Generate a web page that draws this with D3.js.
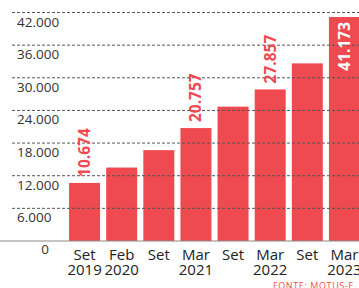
<!DOCTYPE html>
<html lang="it">
<head>
  <meta charset="UTF-8" />
  <title>Colonnine</title>
  <script src="https://d3js.org/d3.v7.min.js"></script>
  <style>
    body {
      margin: 0;
      background: #fff;
      font-family: "Open Sans", sans-serif;
    }
    svg { display: block; }
    .tick-label { font-size: 13.5px; fill: #333; }
    .x-label { font-size: 15px; fill: #222; text-anchor: middle; }
    .value { font-size: 15.5px; font-weight: 700; }
  </style>
</head>
<body>
  <svg id="chart" width="359" height="288"></svg>

  <script>
    const months = ["Set", "Feb", "Set", "Mar", "Set", "Mar", "Set", "Mar"];
    const years = ["2019", "2020", "", "2021", "", "2022", "", "2023"];
    const values = [10674, 13500, 16700, 20757, 24700, 27857, 32650, 41173];
    // which bars show their number
    const shownLabels = [true, false, false, true, false, true, false, true];
    const yTicks = [6000, 12000, 18000, 24000, 30000, 36000, 42000];

    const red = "#ef4a4f";
    const svg = d3.select("#chart");
    const fmt = d => d3.format(",")(d).replace(/,/g, ".");

    const x = d3.scaleBand()
      .domain(d3.range(values.length))
      .range([66, 363])
      .paddingInner(0.165)
      .paddingOuter(0.0825);

    const y = d3.scaleLinear()
      .domain([0, 42000])
      .range([241, 12.5]);

    // bars
    svg.selectAll("rect.bar")
      .data(values)
      .join("rect")
      .attr("class", "bar")
      .attr("x", (d, i) => x(i))
      .attr("width", x.bandwidth())
      .attr("y", d => y(d))
      .attr("height", d => y(0) - y(d))
      .attr("fill", red);

    // baseline
    svg.append("line")
      .attr("x1", 0).attr("x2", 359)
      .attr("y1", y(0)).attr("y2", y(0))
      .attr("stroke", "#8a8a8a")
      .attr("stroke-width", 1.2);

    // dashed grid, drawn over the bars
    svg.selectAll("line.grid")
      .data(yTicks)
      .join("line")
      .attr("class", "grid")
      .attr("x1", 12).attr("x2", 359)
      .attr("y1", d => y(d)).attr("y2", d => y(d))
      .attr("stroke", "#555")
      .attr("stroke-width", 1)
      .attr("stroke-dasharray", "3,2");

    svg.selectAll("text.tick-label")
      .data(yTicks)
      .join("text")
      .attr("class", "tick-label")
      .attr("x", 17)
      .attr("y", d => y(d) + 14)
      .text(d => fmt(d));

    svg.append("text")
      .attr("class", "tick-label")
      .attr("x", 45)
      .attr("y", 254)
      .attr("text-anchor", "middle")
      .text("0");

    // category labels, two lines in one text
    const xl = svg.selectAll("text.x-label")
      .data(months)
      .join("text")
      .attr("class", "x-label")
      .attr("y", 260);

    xl.append("tspan")
      .attr("x", (d, i) => x(i) + x.bandwidth() / 2)
      .text(d => d);

    xl.append("tspan")
      .attr("x", (d, i) => x(i) + x.bandwidth() / 2)
      .attr("dy", 15)
      .text((d, i) => years[i]);

    // rotated value labels
    const last = values.length - 1;
    svg.selectAll("text.value")
      .data(values.map((v, i) => ({ v, i })).filter(d => shownLabels[d.i]))
      .join("text")
      .attr("class", "value")
      .attr("transform", d => {
        const cx = x(d.i) + x.bandwidth() / 2 + 5.5;
        const yy = d.i === last ? y(d.v) + 5 : y(d.v) - 6;
        return `translate(${cx},${yy}) rotate(-90)`;
      })
      .attr("text-anchor", d => d.i === last ? "end" : "start")
      .attr("fill", d => d.i === last ? "#fff" : red)
      .text(d => fmt(d.v));

    svg.append("text")
      .attr("x", 273)
      .attr("y", 289)
      .attr("font-size", 9)
      .attr("letter-spacing", 0.6)
      .attr("fill", red)
      .text("FONTE: MOTUS-E");
  </script>
</body>
</html>
